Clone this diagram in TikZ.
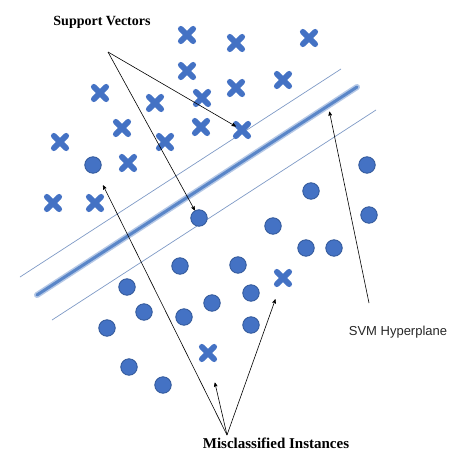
\documentclass[tikz,border=0pt]{standalone}
\usepackage{fontspec}
\setmainfont{Liberation Serif}
\newfontfamily\hypfont{Liberation Sans}
\usepackage{tikz}
\usetikzlibrary{arrows}
\usetikzlibrary{shapes.misc}
\usepackage{xcolor}

\definecolor{markblue}{HTML}{4472C4}
\definecolor{markedge}{HTML}{2F5597}
\definecolor{planeblue}{HTML}{5A86C8}
\definecolor{marginblue}{HTML}{7F9AC6}

\begin{document}
\begin{tikzpicture}[x=1pt, y=-1pt,
    xmark/.style={cross out, draw=markblue, line width=5.8pt, line cap=round, minimum size=6.5pt, inner sep=0pt},
    omark/.style={circle, fill=markblue, draw=markedge, line width=0.8pt, inner sep=0pt, minimum size=16.5pt},
    pointer/.style={->, >=stealth', black, line width=0.6pt},
    title/.style={font=\fontsize{14}{16}\selectfont\bfseries, inner sep=0pt}]

      \useasboundingbox (0, 0) rectangle (449, 455);

      \coordinate (u1) at (20, 277);
      \coordinate (u2) at (341, 69);
      \coordinate (h1) at (37, 295);
      \coordinate (h2) at (357, 87);
      \coordinate (l1) at (52, 320);
      \coordinate (l2) at (376, 110);

      \draw[marginblue, line width=0.7pt] (u1) -- (u2);
      \draw[marginblue, line width=0.7pt] (l1) -- (l2);
      \draw[planeblue!45, line width=6pt, line cap=round] (h1) -- (h2);
      \draw[planeblue, line width=3pt, line cap=round] (h1) -- (h2) coordinate[pos=0.91] (hp);

      \node[xmark] (x1) at (187, 35) {};
      \node[xmark] (x2) at (236, 43) {};
      \node[xmark] (x3) at (309, 38) {};
      \node[xmark] (x4) at (187, 71) {};
      \node[xmark] (x5) at (236, 88) {};
      \node[xmark] (x6) at (283, 80) {};
      \node[xmark] (x7) at (100, 93) {};
      \node[xmark] (x8) at (155, 103) {};
      \node[xmark] (x9) at (202, 98) {};
      \node[xmark] (x10) at (122, 128) {};
      \node[xmark] (x11) at (201, 127) {};
      \node[xmark] (x12) at (242, 130) {};
      \node[xmark] (x13) at (60, 142) {};
      \node[xmark] (x14) at (165, 142) {};
      \node[xmark] (x15) at (128, 163) {};
      \node[xmark] (x16) at (53, 203) {};
      \node[xmark] (x17) at (95, 203) {};
      \node[xmark] (x18) at (283, 278) {};
      \node[xmark] (x19) at (208, 353) {};

      \node[omark] (c1) at (93, 165) {};
      \node[omark] (c2) at (199, 218) {};
      \node[omark] (c3) at (367, 165) {};
      \node[omark] (c4) at (311, 191) {};
      \node[omark] (c5) at (369, 215) {};
      \node[omark] (c6) at (273, 226) {};
      \node[omark] (c7) at (306, 248) {};
      \node[omark] (c8) at (334, 248) {};
      \node[omark] (c9) at (180, 266) {};
      \node[omark] (c10) at (238, 265) {};
      \node[omark] (c11) at (127, 287) {};
      \node[omark] (c12) at (251, 293) {};
      \node[omark] (c13) at (144, 312) {};
      \node[omark] (c14) at (212, 303) {};
      \node[omark] (c15) at (184, 317) {};
      \node[omark] (c16) at (251, 325) {};
      \node[omark] (c17) at (107, 328) {};
      \node[omark] (c18) at (129, 367) {};
      \node[omark] (c19) at (163, 385) {};

      \node[title] (sv) at (102, 22) {Support Vectors};
      \node[title, font=\fontsize{15}{17}\selectfont\bfseries] (mi) at (276, 443) {Misclassified Instances};
      \node[inner sep=0pt, font=\hypfont\fontsize{13}{15}\selectfont, text=black!85] (hyp) at (398, 332) {SVM Hyperplane};

      \coordinate (svo) at (108, 52);
      \coordinate (mio) at (227, 435);
      \coordinate (hypo) at (369, 303);

      \draw[pointer] (svo) -- (x12);
      \draw[pointer] (svo) -- (c2);
      \draw[pointer, shorten >=14pt] (mio) -- (c1);
      \draw[pointer, shorten >=24pt] (mio) -- (x19);
      \draw[pointer, shorten >=16pt] (mio) -- (x18);
      \draw[pointer, shorten >=6pt] (hypo) -- (hp);

    \end{tikzpicture}
\end{document}
